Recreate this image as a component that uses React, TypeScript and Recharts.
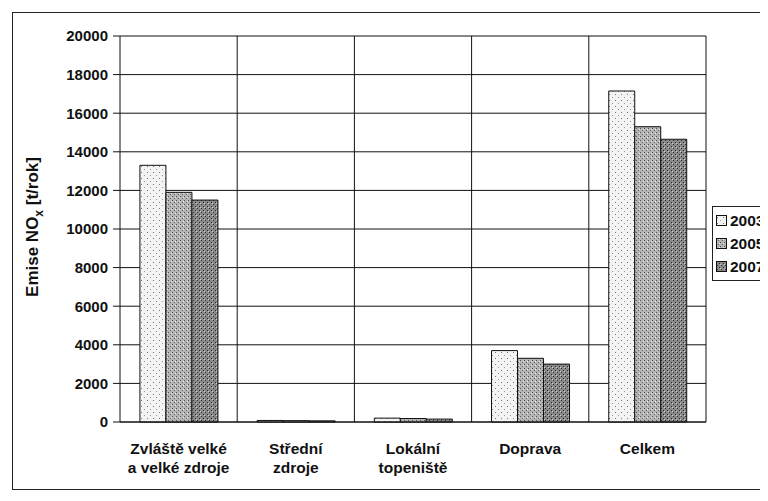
import React from 'react';
import { BarChart, Bar, XAxis, YAxis, CartesianGrid, Legend } from 'recharts';

const categories = [
  'Zvláště velké\na velké zdroje',
  'Střední\nzdroje',
  'Lokální\ntopeniště',
  'Doprava',
  'Celkem',
];
const values2003 = [13300, 80, 200, 3700, 17150];
const values2005 = [11900, 70, 180, 3300, 15300];
const values2007 = [11500, 60, 150, 3000, 14650];
const yTicks = [0, 2000, 4000, 6000, 8000, 10000, 12000, 14000, 16000, 18000, 20000];

const data = categories.map((name, i) => ({
  name,
  y2003: values2003[i],
  y2005: values2005[i],
  y2007: values2007[i],
}));

const FONT = '"Liberation Sans", Arial, sans-serif';

const CategoryTick = ({ x, y, payload }: any) => {
  const lines = String(payload.value).split('\n');
  return (
    <text x={x} y={y + 24} textAnchor="middle" fontFamily={FONT} fontWeight="bold" fontSize={15.5} fill="#111">
      {lines.map((l, i) => (
        <tspan key={i} x={x} dy={i === 0 ? 0 : 19}>{l}</tspan>
      ))}
    </text>
  );
};

const YLabel = () => (
  <text
    x={30}
    y={219}
    transform="rotate(-90 30 219)"
    textAnchor="middle"
    fontFamily={FONT}
    fontWeight="bold"
    fontSize={17}
    fill="#111"
  >
    Emise NO
    <tspan fontSize={12} dy={5}>x</tspan>
    <tspan dy={-5}> [t/rok]</tspan>
  </text>
);

const LegendBox = ({ payload }: any) => (
  <div
    style={{
      border: '1px solid #222',
      background: '#fff',
      padding: '2px 3px',
      fontFamily: FONT,
      fontWeight: 'bold',
      fontSize: 15.5,
      color: '#111',
    }}
  >
    {(payload || []).map((p: any) => (
      <div key={p.value} style={{ display: 'flex', alignItems: 'center', height: 23 }}>
        <svg width={11} height={11} style={{ marginRight: 3 }}>
          <rect x={0.5} y={0.5} width={10} height={10} fill={p.color} stroke="#111" />
        </svg>
        {p.value}
      </div>
    ))}
  </div>
);

export default function App() {
  return (
    <div style={{ position: 'relative', width: 752, height: 485 }}>
      <div
        style={{
          position: 'absolute',
          left: 4,
          top: 4,
          width: 760,
          height: 476,
          borderLeft: '1px solid #222',
          borderTop: '1px solid #222',
          borderBottom: '1px solid #222',
        }}
      />
      <BarChart
        width={752}
        height={485}
        data={data}
        margin={{ top: 28, right: -10, left: 42, bottom: 21 }}
        barGap={0}
        barCategoryGap="17%"
        style={{ position: 'relative' }}
      >
        <defs>
          <pattern id="p2003" width="6" height="6" patternUnits="userSpaceOnUse">
            <rect width="6" height="6" fill="#f3f3f3" />
            <rect x="1" y="2" width="1" height="1" fill="#777" />
            <rect x="4" y="5" width="1" height="1" fill="#999" />
          </pattern>
          <pattern id="p2005" width="4" height="4" patternUnits="userSpaceOnUse">
            <rect width="4" height="4" fill="#b4b4b4" />
            <rect x="0" y="0" width="1" height="1" fill="#555" />
            <rect x="2" y="2" width="1" height="1" fill="#666" />
            <rect x="3" y="1" width="1" height="1" fill="#eee" />
          </pattern>
          <pattern id="p2007" width="4" height="4" patternUnits="userSpaceOnUse">
            <rect width="4" height="4" fill="#8a8a8a" />
            <rect x="1" y="0" width="1" height="1" fill="#333" />
            <rect x="3" y="2" width="1" height="1" fill="#222" />
            <rect x="0" y="3" width="1" height="1" fill="#ccc" />
          </pattern>
        </defs>
        <CartesianGrid
          stroke="#111"
          strokeWidth={1}
          verticalCoordinatesGenerator={({ offset }: any) =>
            categories.map((_, i) => offset.left + (offset.width * (i + 1)) / categories.length)
          }
        />
        <XAxis
          dataKey="name"
          height={50}
          interval={0}
          tick={<CategoryTick />}
          tickLine={false}
          axisLine={{ stroke: '#111' }}
        />
        <YAxis
          width={70}
          domain={[0, 20000]}
          ticks={yTicks}
          interval={0}
          tickSize={7}
          tickMargin={5}
          tickLine={{ stroke: '#111' }}
          axisLine={{ stroke: '#111' }}
          tick={{ fontFamily: FONT, fontWeight: 'bold', fontSize: 15, fill: '#111' }}
          label={<YLabel />}
        />
        <Legend
          layout="vertical"
          verticalAlign="top"
          align="right"
          wrapperStyle={{ top: 198, right: -16, width: 64 }}
          content={<LegendBox />}
        />
        <Bar dataKey="y2003" name="2003" fill="url(#p2003)" stroke="#111" strokeWidth={1} isAnimationActive={false} />
        <Bar dataKey="y2005" name="2005" fill="url(#p2005)" stroke="#111" strokeWidth={1} isAnimationActive={false} />
        <Bar dataKey="y2007" name="2007" fill="url(#p2007)" stroke="#111" strokeWidth={1} isAnimationActive={false} />
      </BarChart>
    </div>
  );
}
